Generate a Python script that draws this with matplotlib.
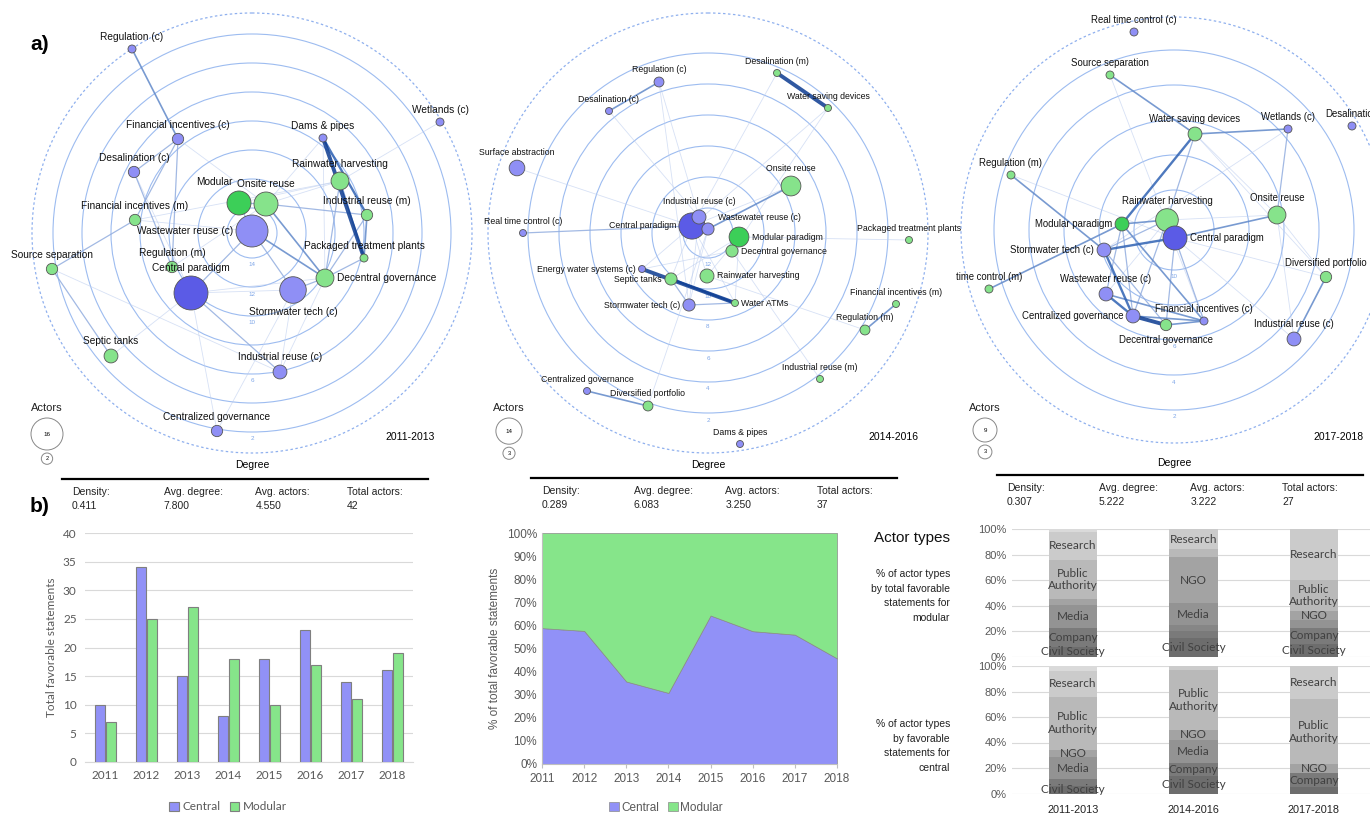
import matplotlib.pyplot as plt
from matplotlib.patches import Circle
import numpy as np

plt.rcParams['font.family'] = ['Liberation Sans', 'DejaVu Sans']

# ---------------- data ----------------
years = [2011, 2012, 2013, 2014, 2015, 2016, 2017, 2018]
central_counts = [10, 34, 15, 8, 18, 23, 14, 16]
modular_counts = [7, 25, 27, 18, 10, 17, 11, 19]

periods = ['2011-2013', '2014-2016', '2017-2018']
density = [0.411, 0.289, 0.307]
avg_degree = [7.800, 6.083, 5.222]
avg_actors = [4.550, 3.250, 3.222]
total_actors = [42, 37, 27]
legend_actors = [(16, 2), (14, 3), (9, 3)]

actor_types = ['Civil Society', 'Company', 'Expert', 'Media', 'NGO',
               'Public Authority', 'Research', 'Other']
# % of actor types, per period (bottom -> top)
modular_actor_pct = [[8, 15, 0, 18, 4, 31, 22, 2],
                     [15, 5, 5, 17, 36, 6, 16, 0],
                     [10, 13, 0, 6, 7, 24, 40, 0]]
central_actor_pct = [[6, 5, 0, 18, 5, 42, 20, 4],
                     [14, 10, 0, 18, 8, 47, 3, 0],
                     [5, 11, 0, 0, 7, 51, 26, 0]]
modular_shown = [['Civil Society', 'Company', 'Media', 'Public Authority', 'Research'],
                 ['Civil Society', 'Media', 'NGO', 'Research'],
                 ['Civil Society', 'Company', 'NGO', 'Public Authority', 'Research']]
central_shown = [['Civil Society', 'Media', 'NGO', 'Public Authority', 'Research'],
                 ['Civil Society', 'Company', 'Media', 'NGO', 'Public Authority'],
                 ['Company', 'NGO', 'Public Authority', 'Research']]

# network 2011-2013 (node layout, pixel units)
n1_names = ['Regulation (c)', 'Financial incentives (c)', 'Desalination (c)', 'Financial incentives (m)',
            'Wastewater reuse (c)', 'Modular', 'Onsite reuse', 'Regulation (m)', 'Central paradigm',
            'Stormwater tech (c)', 'Decentral governance', 'Packaged treatment plants',
            'Industrial reuse (m)', 'Rainwater harvesting', 'Dams & pipes', 'Wetlands (c)',
            'Source separation', 'Septic tanks', 'Industrial reuse (c)', 'Centralized governance']
n1_x = [132, 178, 134, 135, 252, 239, 266, 172, 191, 293, 325, 364, 367, 340, 323, 440, 52, 111, 280, 217]
n1_y = [49, 139, 172, 220, 231, 203, 204, 267, 293, 290, 278, 258, 215, 181, 138, 122, 269, 356, 372, 431]
n1_actors = [1, 2, 2, 2, 16, 9, 9, 2, 18, 11, 5, 1, 2, 5, 1, 1, 2, 3, 3, 2]
n1_kind = ['c', 'c', 'c', 'm', 'c', 'M', 'm', 'm', 'C', 'c', 'm', 'm', 'm', 'm', 'c', 'c', 'm', 'm', 'c', 'c']
n1_edges = [('Regulation (c)', 'Financial incentives (c)', 3),
            ('Dams & pipes', 'Packaged treatment plants', 5),
            ('Dams & pipes', 'Industrial reuse (m)', 4),
            ('Rainwater harvesting', 'Packaged treatment plants', 3),
            ('Industrial reuse (m)', 'Packaged treatment plants', 3),
            ('Wetlands (c)', 'Rainwater harvesting', 1),
            ('Source separation', 'Financial incentives (m)', 2),
            ('Source separation', 'Septic tanks', 2),
            ('Source separation', 'Industrial reuse (c)', 1),
            ('Onsite reuse', 'Decentral governance', 3),
            ('Wastewater reuse (c)', 'Decentral governance', 3),
            ('Wastewater reuse (c)', 'Stormwater tech (c)', 2),
            ('Central paradigm', 'Wastewater reuse (c)', 2),
            ('Central paradigm', 'Industrial reuse (c)', 2),
            ('Onsite reuse', 'Industrial reuse (m)', 2),
            ('Decentral governance', 'Rainwater harvesting', 2),
            ('Decentral governance', 'Industrial reuse (m)', 2),
            ('Decentral governance', 'Packaged treatment plants', 2),
            ('Desalination (c)', 'Financial incentives (c)', 2),
            ('Desalination (c)', 'Regulation (m)', 2),
            ('Desalination (c)', 'Central paradigm', 1),
            ('Financial incentives (c)', 'Financial incentives (m)', 2),
            ('Financial incentives (c)', 'Regulation (m)', 2),
            ('Financial incentives (c)', 'Onsite reuse', 1),
            ('Modular', 'Onsite reuse', 2),
            ('Modular', 'Wastewater reuse (c)', 2),
            ('Modular', 'Rainwater harvesting', 1),
            ('Onsite reuse', 'Rainwater harvesting', 1),
            ('Central paradigm', 'Stormwater tech (c)', 1),
            ('Central paradigm', 'Centralized governance', 1),
            ('Central paradigm', 'Decentral governance', 1),
            ('Central paradigm', 'Septic tanks', 1),
            ('Stormwater tech (c)', 'Decentral governance', 2),
            ('Stormwater tech (c)', 'Industrial reuse (c)', 1),
            ('Wastewater reuse (c)', 'Financial incentives (m)', 1),
            ('Regulation (m)', 'Onsite reuse', 1),
            ('Dams & pipes', 'Onsite reuse', 1),
            ('Industrial reuse (c)', 'Decentral governance', 1),
            ('Centralized governance', 'Stormwater tech (c)', 1),
            ('Financial incentives (m)', 'Rainwater harvesting', 1),
            ('Dams & pipes', 'Decentral governance', 1)]

# network 2014-2016
n2_names = ['Desalination (m)', 'Water saving devices', 'Regulation (c)', 'Desalination (c)',
            'Surface abstraction', 'Real time control (c)', 'Central paradigm', 'Industrial reuse (c)',
            'Wastewater reuse (c)', 'Onsite reuse', 'Modular paradigm', 'Decentral governance',
            'Packaged treatment plants', 'Energy water systems (c)', 'Septic tanks',
            'Rainwater harvesting', 'Stormwater tech (c)', 'Water ATMs', 'Financial incentives (m)',
            'Regulation (m)', 'Industrial reuse (m)', 'Centralized governance',
            'Diversified portfolio', 'Dams & pipes']
n2_x = [777, 828, 659, 609, 517, 523, 692, 699, 708, 791, 739, 732, 909, 642, 671, 707, 689, 735, 896, 865, 820, 587, 648, 740]
n2_y = [73, 108, 82, 111, 168, 233, 226, 217, 229, 186, 237, 251, 240, 269, 279, 276, 305, 303, 304, 330, 379, 391, 406, 444]
n2_actors = [1, 1, 2, 1, 5, 1, 14, 4, 3, 8, 8, 3, 1, 1, 3, 4, 3, 1, 1, 2, 1, 1, 2, 1]
n2_kind = ['m', 'm', 'c', 'c', 'c', 'c', 'C', 'c', 'c', 'm', 'M', 'm', 'm', 'c', 'm', 'm', 'c', 'm', 'm', 'm', 'm', 'c', 'm', 'c']
n2_edges = [('Desalination (m)', 'Water saving devices', 5),
            ('Regulation (c)', 'Desalination (c)', 3),
            ('Energy water systems (c)', 'Water ATMs', 5),
            ('Septic tanks', 'Water ATMs', 4),
            ('Surface abstraction', 'Central paradigm', 1),
            ('Real time control (c)', 'Central paradigm', 2),
            ('Centralized governance', 'Diversified portfolio', 3),
            ('Financial incentives (m)', 'Regulation (m)', 3),
            ('Onsite reuse', 'Wastewater reuse (c)', 3),
            ('Desalination (c)', 'Industrial reuse (c)', 1),
            ('Regulation (c)', 'Industrial reuse (c)', 1),
            ('Regulation (c)', 'Stormwater tech (c)', 1),
            ('Desalination (m)', 'Central paradigm', 1),
            ('Water saving devices', 'Central paradigm', 1),
            ('Water saving devices', 'Decentral governance', 1),
            ('Packaged treatment plants', 'Modular paradigm', 1),
            ('Diversified portfolio', 'Wastewater reuse (c)', 1),
            ('Industrial reuse (m)', 'Decentral governance', 1),
            ('Regulation (m)', 'Rainwater harvesting', 1),
            ('Stormwater tech (c)', 'Water ATMs', 2),
            ('Stormwater tech (c)', 'Septic tanks', 2),
            ('Energy water systems (c)', 'Central paradigm', 1),
            ('Septic tanks', 'Central paradigm', 1),
            ('Rainwater harvesting', 'Central paradigm', 1),
            ('Water ATMs', 'Central paradigm', 1),
            ('Stormwater tech (c)', 'Wastewater reuse (c)', 1),
            ('Energy water systems (c)', 'Decentral governance', 1),
            ('Septic tanks', 'Modular paradigm', 1),
            ('Water ATMs', 'Modular paradigm', 1),
            ('Rainwater harvesting', 'Modular paradigm', 1),
            ('Onsite reuse', 'Central paradigm', 1),
            ('Stormwater tech (c)', 'Industrial reuse (c)', 1)]

# network 2017-2018
n3_names = ['Real time control (c)', 'Source separation', 'Water saving devices', 'Wetlands (c)',
            'Desalination', 'Regulation (m)', 'Rainwater harvesting', 'Modular paradigm',
            'Central paradigm', 'Onsite reuse', 'Stormwater tech (c)', 'time control (m)',
            'Diversified portfolio', 'Wastewater reuse (c)', 'Centralized governance',
            'Decentral governance', 'Financial incentives (c)', 'Industrial reuse (c)']
n3_x = [1134, 1110, 1195, 1288, 1352, 1011, 1167, 1122, 1175, 1277, 1104, 989, 1326, 1106, 1133, 1166, 1204, 1294]
n3_y = [32, 75, 134, 129, 126, 175, 220, 224, 238, 215, 250, 289, 277, 294, 316, 325, 321, 339]
n3_actors = [1, 1, 3, 1, 1, 1, 8, 3, 9, 5, 3, 1, 2, 3, 3, 2, 1, 3]
n3_kind = ['c', 'm', 'm', 'c', 'c', 'm', 'm', 'M', 'C', 'm', 'c', 'm', 'm', 'c', 'c', 'm', 'c', 'c']
n3_edges = [('Source separation', 'Water saving devices', 3),
            ('Source separation', 'Financial incentives (c)', 1),
            ('Water saving devices', 'Wetlands (c)', 3),
            ('Water saving devices', 'Modular paradigm', 4),
            ('Water saving devices', 'Rainwater harvesting', 2),
            ('Water saving devices', 'Onsite reuse', 1),
            ('Water saving devices', 'Diversified portfolio', 1),
            ('Wetlands (c)', 'Onsite reuse', 2),
            ('Wetlands (c)', 'Stormwater tech (c)', 1),
            ('Regulation (m)', 'Stormwater tech (c)', 3),
            ('Regulation (m)', 'Central paradigm', 1),
            ('time control (m)', 'Modular paradigm', 3),
            ('Onsite reuse', 'Central paradigm', 3),
            ('Onsite reuse', 'Industrial reuse (c)', 1),
            ('Onsite reuse', 'Diversified portfolio', 1),
            ('Diversified portfolio', 'Industrial reuse (c)', 3),
            ('Stormwater tech (c)', 'Central paradigm', 4),
            ('Modular paradigm', 'Rainwater harvesting', 3),
            ('Centralized governance', 'Decentral governance', 5),
            ('Centralized governance', 'Wastewater reuse (c)', 4),
            ('Wastewater reuse (c)', 'Financial incentives (c)', 3),
            ('Centralized governance', 'Financial incentives (c)', 3),
            ('Decentral governance', 'Financial incentives (c)', 3),
            ('Stormwater tech (c)', 'Centralized governance', 4),
            ('Modular paradigm', 'Financial incentives (c)', 3),
            ('Central paradigm', 'Decentral governance', 2),
            ('Central paradigm', 'Industrial reuse (c)', 1),
            ('Central paradigm', 'Diversified portfolio', 1),
            ('Stormwater tech (c)', 'Rainwater harvesting', 2),
            ('Modular paradigm', 'Centralized governance', 2),
            ('Rainwater harvesting', 'Centralized governance', 2),
            ('Rainwater harvesting', 'Wastewater reuse (c)', 1),
            ('Modular paradigm', 'Wastewater reuse (c)', 2),
            ('Stormwater tech (c)', 'Decentral governance', 2),
            ('Central paradigm', 'Financial incentives (c)', 2),
            ('Rainwater harvesting', 'Onsite reuse', 1)]

# ---------------- styles / layout ----------------
kind_color = {'c': '#8f8ff5', 'C': '#5b5be6', 'm': '#86e38b', 'M': '#3ccf58'}
edge_style = {1: ('#bccdef', 0.6), 2: ('#92addf', 0.9), 3: ('#6189c9', 1.2),
              4: ('#2f62b3', 1.7), 5: ('#0b3b91', 2.8)}
ring_col = '#9dbcf0'

panels = [
    dict(names=n1_names, x=n1_x, y=n1_y, actors=n1_actors, kind=n1_kind, edges=n1_edges,
         center=(252, 233), r0=228, step=14.5, rings=[2, 4, 6, 8, 10, 12, 14], ring_lab=[2, 6, 10, 12, 14],
         dashed=220, scale=4.0, fs=7.3,
         side={'Wastewater reuse (c)': 'l', 'Modular': 'tl',
               'Stormwater tech (c)': 'b', 'Decentral governance': 'r'},
         actors_xy=(47, 408), year_x=435, deg_y=465, line=(62, 428, 479), stat_x=72, stat_y=492),
    dict(names=n2_names, x=n2_x, y=n2_y, actors=n2_actors, kind=n2_kind, edges=n2_edges,
         center=(708, 233), r0=211, step=15.5, rings=[2, 4, 6, 8, 10, 12], ring_lab=[2, 4, 6, 8, 10, 12],
         dashed=220, scale=3.5, fs=6.3,
         side={'Central paradigm': 'l', 'Wastewater reuse (c)': 'tr',
               'Modular paradigm': 'r', 'Decentral governance': 'r',
               'Energy water systems (c)': 'l', 'Septic tanks': 'l',
               'Rainwater harvesting': 'r', 'Stormwater tech (c)': 'l',
               'Water ATMs': 'r'},
         actors_xy=(509, 408), year_x=918, deg_y=465, line=(531, 897, 478), stat_x=542, stat_y=491),
    dict(names=n3_names, x=n3_x, y=n3_y, actors=n3_actors, kind=n3_kind, edges=n3_edges,
         center=(1174, 230), r0=215, step=17.5, rings=[2, 4, 6, 8, 10], ring_lab=[2, 4, 6, 10],
         dashed=213, scale=4.0, fs=6.9,
         side={'Modular paradigm': 'l', 'Central paradigm': 'r',
               'Stormwater tech (c)': 'l', 'Centralized governance': 'l',
               'Decentral governance': 'b'},
         actors_xy=(985, 408), year_x=1364, deg_y=463, line=(997, 1363, 475), stat_x=1007, stat_y=488),
]

fig = plt.figure(figsize=(13.7, 8.14), dpi=100)
ov = fig.add_axes([0, 0, 1, 1])
ov.set_xlim(0, 1370)
ov.set_ylim(814, 0)
ov.axis('off')

for k, p in enumerate(panels):
    cx, cy = p['center']
    # rings
    for d in p['rings']:
        r = p['r0'] - p['step'] * d
        ov.add_patch(Circle((cx, cy), r, fill=False, ec=ring_col, lw=0.8, zorder=1))
        if d in p['ring_lab']:
            ov.text(cx, cy + r + 7, str(d), fontsize=4.5, color='#7ea6e8', ha='center', va='center', zorder=1)
    ov.add_patch(Circle((cx, cy), p['dashed'], fill=False, ec='#8fb0ee', lw=0.9, ls=(0, (2, 2)), zorder=1))

    idx = {n: i for i, n in enumerate(p['names'])}
    # edges
    for a, b, w in sorted(p['edges'], key=lambda e: e[2]):
        col, lw = edge_style[w]
        ia, ib = idx[a], idx[b]
        ov.plot([p['x'][ia], p['x'][ib]], [p['y'][ia], p['y'][ib]], color=col, lw=lw,
                alpha=0.85 if w > 1 else 0.6, solid_capstyle='round', zorder=2 + w * 0.1)
    # nodes and labels
    for i, name in enumerate(p['names']):
        r = p['scale'] * np.sqrt(p['actors'][i])
        ov.add_patch(Circle((p['x'][i], p['y'][i]), r, fc=kind_color[p['kind'][i]],
                            ec='#555555', lw=0.6, zorder=4))
        side = p['side'].get(name, 't')
        xx, yy = p['x'][i], p['y'][i]
        if side == 't':
            tx, ty, ha = xx, yy - r - 8, 'center'
        elif side == 'b':
            tx, ty, ha = xx, yy + r + 9, 'center'
        elif side == 'l':
            tx, ty, ha = xx - r - 3, yy, 'right'
        elif side == 'r':
            tx, ty, ha = xx + r + 3, yy, 'left'
        elif side == 'tl':
            tx, ty, ha = xx - 6, yy - r - 9, 'right'
        else:
            tx, ty, ha = xx + 10, yy - 12, 'left'
        ov.text(tx, ty, name, fontsize=p['fs'], ha=ha, va='center', color='#111111', zorder=5)

    # actors legend
    ax_, ay_ = p['actors_xy']
    big, small = legend_actors[k]
    rb = p['scale'] * np.sqrt(big)
    rs = p['scale'] * np.sqrt(small)
    ov.text(ax_, ay_, 'Actors', fontsize=8, ha='center', va='center', color='#222222')
    ov.add_patch(Circle((ax_, ay_ + 10 + rb), rb, fill=False, ec='#888888', lw=0.7))
    ov.text(ax_, ay_ + 10 + rb, str(big), fontsize=4.5, ha='center', va='center')
    ov.add_patch(Circle((ax_, ay_ + 13 + 2 * rb + rs), rs, fill=False, ec='#888888', lw=0.7))
    ov.text(ax_, ay_ + 13 + 2 * rb + rs, str(small), fontsize=4, ha='center', va='center')

    ov.text(p['year_x'], 437, periods[k], fontsize=7.5, ha='right', va='center')
    ov.text(cx, p['deg_y'], 'Degree', fontsize=7.5, ha='center', va='center')
    x0, x1, ly = p['line']
    ov.plot([x0, x1], [ly, ly], color='black', lw=1.6)
    sx, sy = p['stat_x'], p['stat_y']
    stats = [('Density:', f'{density[k]:.3f}'), ('Avg. degree:', f'{avg_degree[k]:.3f}'),
             ('Avg. actors:', f'{avg_actors[k]:.3f}'), ('Total actors:', f'{total_actors[k]}')]
    for j, (lab, val) in enumerate(stats):
        ov.text(sx + 91.7 * j, sy, lab, fontsize=7.5, ha='left', va='center', color='#222222')
        ov.text(sx + 91.7 * j, sy + 14, val, fontsize=7.5, ha='left', va='center', color='#222222')

ov.text(30, 45, 'a)', fontsize=15, fontweight='bold', ha='left', va='center')
ov.text(30, 507, 'b)', fontsize=15, fontweight='bold', ha='left', va='center')

# right-side text beside the area chart
ov.text(950, 538, 'Actor types', fontsize=11, ha='right', va='center', color='#111111')
ov.text(950, 596, '% of actor types\nby total favorable\nstatements for\nmodular', fontsize=7.5,
        ha='right', va='center', linespacing=1.55, color='#222222')
ov.text(950, 746, '% of actor types\nby favorable\nstatements for\ncentral', fontsize=7.5,
        ha='right', va='center', linespacing=1.55, color='#222222')

blue = '#9191f7'
green = '#86e58a'
grey_txt = '#595959'

# ---------------- bar chart ----------------
axb = fig.add_axes([85 / 1370, 1 - 762 / 814, 328 / 1370, 229 / 814])
xi = np.arange(len(years))
axb.bar(xi - 0.135, central_counts, 0.23, color=blue, edgecolor='#7f7f7f', lw=0.8, zorder=3, label='Central')
axb.bar(xi + 0.135, modular_counts, 0.23, color=green, edgecolor='#7f7f7f', lw=0.8, zorder=3, label='Modular')
axb.set_xlim(-0.5, 7.5)
axb.set_ylim(0, 40)
axb.set_yticks(range(0, 41, 5))
axb.set_xticks(xi)
axb.set_xticklabels([str(y) for y in years])
axb.grid(axis='y', color='#d9d9d9', lw=0.8, zorder=0)
for s in ['top', 'right', 'left']:
    axb.spines[s].set_visible(False)
axb.spines['bottom'].set_color('#d9d9d9')
axb.tick_params(length=0, labelsize=8.5, colors=grey_txt, pad=6)
for t in axb.get_xticklabels() + axb.get_yticklabels():
    t.set_family(['Lato', 'DejaVu Sans'])
axb.set_ylabel('Total favorable statements', fontsize=8.5, color=grey_txt, family=['Lato', 'DejaVu Sans'])
axb.legend(loc='center', bbox_to_anchor=(0.436, -0.196), ncol=2, frameon=False,
           handlelength=0.8, handleheight=0.8, handletextpad=0.3, columnspacing=0.8,
           prop={'family': ['Lato', 'DejaVu Sans'], 'size': 8.5}, labelcolor=grey_txt)

# ---------------- area chart ----------------
tot = np.array(central_counts) + np.array(modular_counts)
central_share = np.array(central_counts) / tot
modular_share = np.array(modular_counts) / tot
axa = fig.add_axes([542 / 1370, 1 - 764 / 814, 295 / 1370, 231 / 814])
axa.stackplot(years, central_share, modular_share, colors=[blue, green], labels=['Central', 'Modular'],
              edgecolor='#8a8a8a', lw=0.5)
axa.set_xlim(2011, 2018)
axa.set_ylim(0, 1)
axa.set_yticks(np.arange(0, 1.01, 0.1))
axa.set_yticklabels([f'{int(round(v * 100))}%' for v in np.arange(0, 1.01, 0.1)])
axa.set_xticks(years)
for s in ['top', 'right']:
    axa.spines[s].set_visible(False)
axa.spines['left'].set_color('#bfbfbf')
axa.spines['bottom'].set_color('#bfbfbf')
axa.tick_params(axis='x', length=3, color='#bfbfbf', labelsize=8.5, labelcolor=grey_txt)
axa.tick_params(axis='y', length=0, labelsize=8.5, labelcolor=grey_txt)
axa.set_ylabel('% of total favorable statements', fontsize=8.5, color=grey_txt)
axa.legend(loc='center', bbox_to_anchor=(0.42, -0.19), ncol=2, frameon=False, fontsize=8.5,
           handlelength=0.8, handleheight=0.8, handletextpad=0.2, columnspacing=0.8, labelcolor=grey_txt)

# ---------------- stacked bars of actor types ----------------
greys = ['#6d6d6d', '#7a7a7a', '#868686', '#939393', '#a3a3a3', '#b9b9b9', '#cbcbcb', '#dadada']
short = {'Public Authority': 'Public\nAuthority'}


def stacked(ax, pct, shown):
    pos = np.arange(len(periods))
    bottoms = np.zeros(len(periods))
    vals = np.array(pct, dtype=float)
    for j, typ in enumerate(actor_types):
        ax.bar(pos, vals[:, j], 0.4, bottom=bottoms, color=greys[j], zorder=3)
        for b in range(len(periods)):
            if typ in shown[b] and vals[b, j] > 0:
                ax.text(pos[b], bottoms[b] + vals[b, j] / 2, short.get(typ, typ), ha='center', va='center',
                        fontsize=8.5, color='#404040', family=['Lato', 'DejaVu Sans'], zorder=4,
                        linespacing=1.2)
        bottoms += vals[:, j]
    ax.set_xlim(-0.506, 2.465)
    ax.set_ylim(0, 100)
    ax.set_yticks(range(0, 101, 20))
    ax.set_yticklabels([f'{v}%' for v in range(0, 101, 20)])
    ax.grid(axis='y', color='#d9d9d9', lw=0.8, zorder=0)
    for s in ['top', 'right', 'left', 'bottom']:
        ax.spines[s].set_visible(False)
    ax.tick_params(length=0, labelsize=8, colors=grey_txt, pad=4)
    ax.set_xticks(pos)


axs1 = fig.add_axes([1012 / 1370, 1 - 657 / 814, 358 / 1370, 128 / 814])
stacked(axs1, modular_actor_pct, modular_shown)
axs1.set_xticklabels([])
axs2 = fig.add_axes([1012 / 1370, 1 - 793.5 / 814, 358 / 1370, 127.5 / 814])
stacked(axs2, central_actor_pct, central_shown)
axs2.set_xticklabels(periods, fontsize=7.8, color='#222222', family=['Liberation Sans', 'DejaVu Sans'])
axs2.tick_params(axis='x', pad=8)

fig.savefig('out.png', dpi=100)
